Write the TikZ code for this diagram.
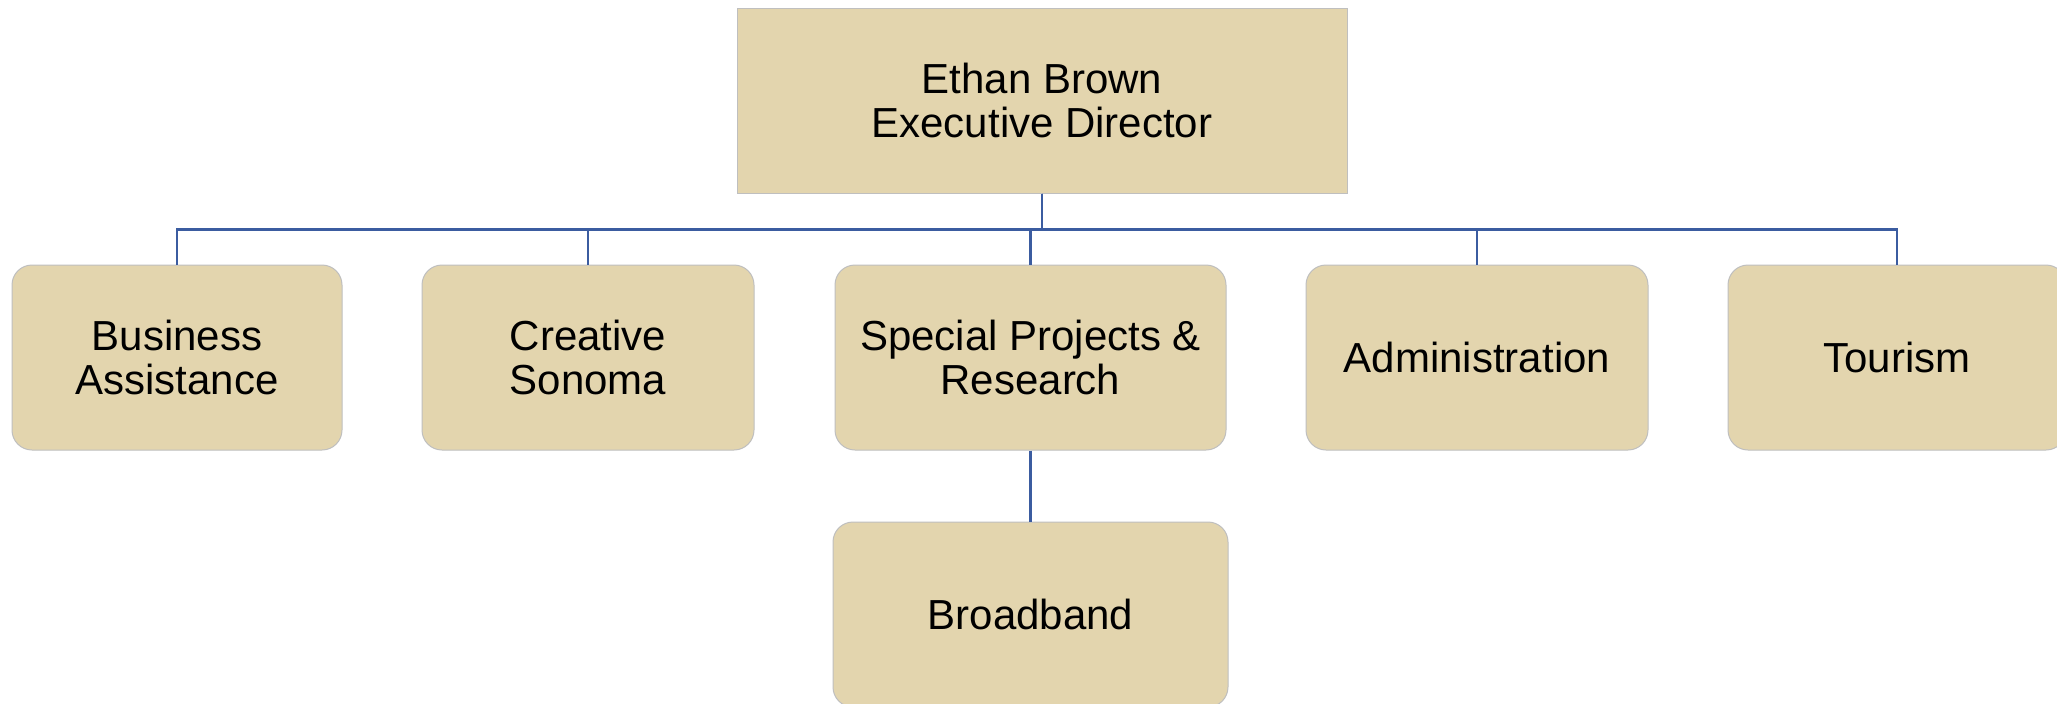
\documentclass[tikz,border=0pt]{standalone}
\usepackage{fontspec}
\setmainfont{Liberation Sans}
\definecolor{boxfill}{HTML}{E3D5AE}
\definecolor{boxline}{HTML}{BFBFBF}
\definecolor{conn}{HTML}{3B5CA0}
\tikzset{
  unitbox/.style={draw=boxline, line width=0.5pt, fill=boxfill, inner sep=0pt,
    align=center, font=\fontsize{21}{22}\selectfont, minimum height=92.5pt},
  topbox/.style={unitbox},
  deptbox/.style={unitbox, rounded corners=10pt},
  link/.style={draw=conn, line width=1.25pt}
}
\begin{document}
\begin{tikzpicture}[x=0.5pt,y=-0.5pt]
\useasboundingbox (0,0) rectangle (2057,703);
\clip (0,0) rectangle (2057,703);
\fill[white] (0,0) rectangle (2057,703);
\node[topbox, minimum width=305pt] (top) at (1042,100.5) {Ethan Brown\\Executive Director};
\node[deptbox, minimum width=165pt] (bus) at (177,357.5) {Business\\Assistance};
\node[deptbox, minimum width=166pt] (cre) at (588,357.5) {Creative\\Sonoma};
\node[deptbox, minimum width=195.5pt] (spe) at (1030.5,357.5) {Special Projects \&\\Research};
\node[deptbox, minimum width=171pt] (adm) at (1477,357.5) {Administration};
\node[deptbox, minimum width=169pt] (tou) at (1897,357.5) {Tourism};
\node[deptbox, minimum width=197.5pt] (bro) at (1030.5,614.5) {Broadband};
\coordinate (bus-j) at (177,229);
\foreach \n in {bus,cre,spe,adm,tou}{
  \draw[link] (top.south) -- ++(0,36) -| (\n.north);
}
\draw[link] (spe.south) -- (bro.north);
\end{tikzpicture}
\end{document}
